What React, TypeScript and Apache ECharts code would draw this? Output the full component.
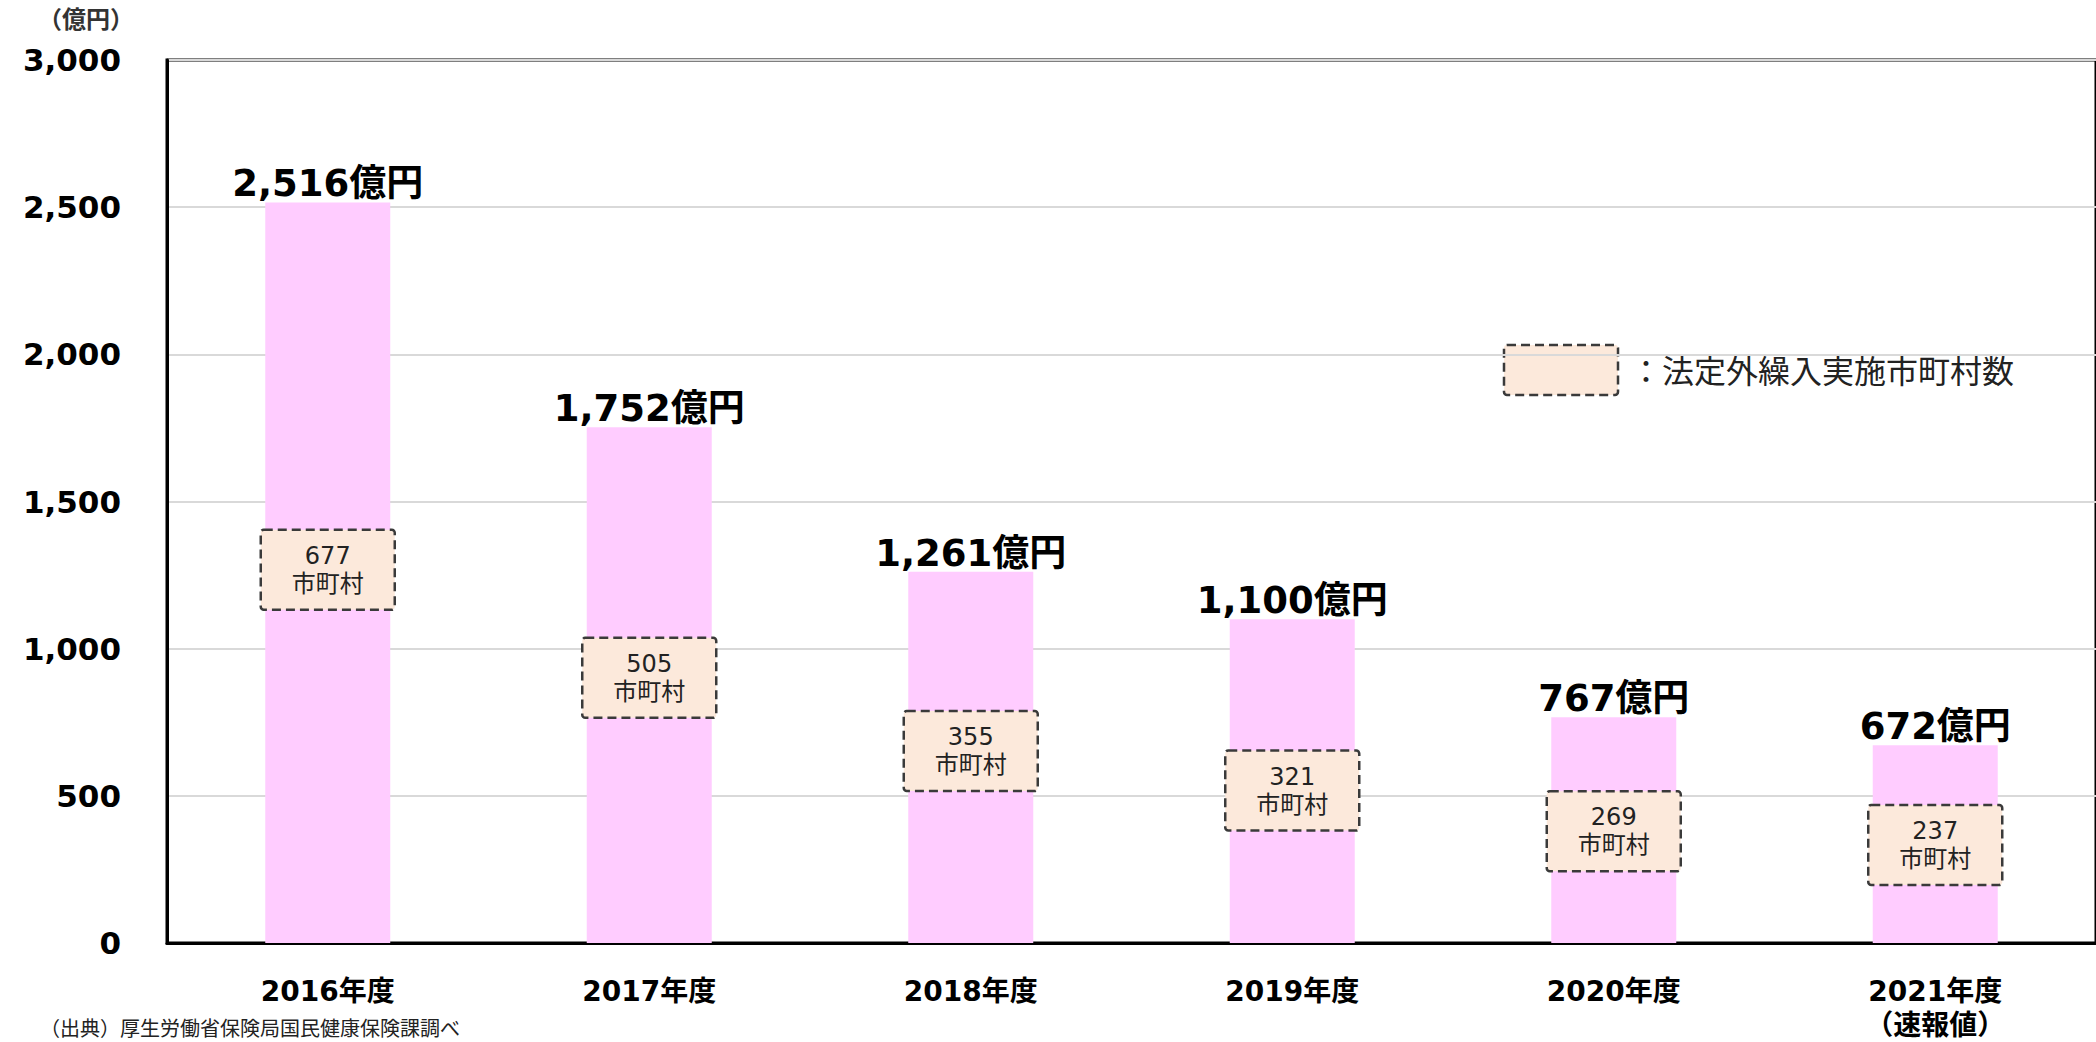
import React, { useEffect, useRef } from "react";
import * as echarts from "echarts";

const CATEGORIES = ["2016年度", "2017年度", "2018年度", "2019年度", "2020年度", "2021年度\n（速報値）"];
const AMOUNTS = [2516, 1752, 1261, 1100, 767, 672];
const MUNICIPALITIES = [677, 505, 355, 321, 269, 237];
// vertical anchor (in 億円 units) of each municipality box's centre
const BOX_ANCHORS = [1268, 901, 652, 518, 380, 333];
const Y_TICKS = [0, 500, 1000, 1500, 2000, 2500, 3000];

const UNIT_LABEL = "（億円）";
const LEGEND_LABEL = "：法定外繰入実施市町村数";
const SOURCE_NOTE = "（出典）厚生労働省保険局国民健康保険課調べ";

const LATIN = "'DejaVu Sans', 'Noto Sans CJK JP', sans-serif";
const BOX_FILL = "#FCE9DB";
const BOX_STROKE = "#3a3a3a";

function fmt(n: number): string {
  return String(n).replace(/\B(?=(\d{3})+(?!\d))/g, ",");
}

export default function App() {
  const ref = useRef<HTMLDivElement>(null);

  useEffect(() => {
    if (!ref.current) return;
    const chart = echarts.init(ref.current, undefined, { renderer: "svg" });
    const boxW = 134;
    const boxH = 80;
    chart.setOption({
      animation: false,
      backgroundColor: "#ffffff",
      grid: {
        left: 167,
        top: 60,
        width: 1933,
        height: 892,
        show: true,
        borderColor: "#000",
        borderWidth: 3,
        backgroundColor: "transparent",
      },
      xAxis: {
        type: "category",
        data: CATEGORIES,
        axisTick: { show: false },
        axisLine: { show: true, lineStyle: { color: "#000", width: 3 } },
        axisLabel: {
          margin: 31,
          fontFamily: LATIN,
          fontWeight: "bold",
          fontSize: 28,
          lineHeight: 34,
          color: "#000",
        },
      },
      yAxis: {
        type: "value",
        min: Y_TICKS[0],
        max: Y_TICKS[Y_TICKS.length - 1],
        interval: Y_TICKS[1] - Y_TICKS[0],
        axisLine: { show: true, lineStyle: { color: "#000", width: 3 } },
        axisTick: { show: false },
        splitLine: { show: true, lineStyle: { color: "#d9d9d9", width: 2 } },
        axisLabel: {
          margin: 46,
          fontFamily: LATIN,
          fontWeight: "bold",
          fontSize: 31,
          color: "#000",
          formatter: (v: number) => fmt(v),
        },
      },
      series: [
        {
          type: "bar",
          data: AMOUNTS,
          barWidth: 125,
          itemStyle: { color: "#FFCCFF" },
          label: {
            show: true,
            position: "top",
            distance: 0,
            fontFamily: LATIN,
            fontWeight: "bold",
            fontSize: 37,
            color: "#000",
            formatter: (p: any) => fmt(p.value) + "億円",
          },
          z: 2,
        },
        {
          type: "custom",
          data: CATEGORIES.map((_, i) => [i, BOX_ANCHORS[i], MUNICIPALITIES[i]]),
          z: 5,
          renderItem: (params: any, api: any) => {
            const pt = api.coord([api.value(0), api.value(1)]);
            const n = api.value(2);
            return {
              type: "group",
              children: [
                {
                  type: "rect",
                  shape: { x: pt[0] - boxW / 2, y: pt[1] - boxH / 2, width: boxW, height: boxH, r: 3 },
                  style: {
                    fill: BOX_FILL,
                    stroke: BOX_STROKE,
                    lineWidth: 2.5,
                    lineDash: [9, 5],
                  },
                },
                {
                  type: "text",
                  x: pt[0],
                  y: pt[1],
                  style: {
                    text: n + "\n市町村",
                    align: "center",
                    verticalAlign: "middle",
                    fontFamily: LATIN,
                    fontSize: 24,
                    lineHeight: 28,
                    fill: "#222",
                  },
                },
              ],
            };
          },
        },
      ],
      graphic: [
        {
          type: "text",
          left: 38,
          top: 8,
          style: {
            text: UNIT_LABEL,
            fontFamily: LATIN,
            fontWeight: "bold",
            fontSize: 24,
            fill: "#333",
          },
        },
        {
          type: "rect",
          shape: { x: 1504, y: 345, width: 114, height: 50, r: 3 },
          style: { fill: BOX_FILL, stroke: BOX_STROKE, lineWidth: 2.5, lineDash: [9, 5] },
        },
        {
          type: "text",
          x: 1630,
          y: 372,
          style: {
            text: LEGEND_LABEL,
            fontFamily: LATIN,
            fontSize: 32,
            fill: "#222",
            verticalAlign: "middle",
          },
        },
        {
          type: "text",
          x: 40,
          y: 1019,
          style: {
            text: SOURCE_NOTE,
            fontFamily: LATIN,
            fontSize: 20,
            fill: "#222",
          },
        },
      ],
    });
    return () => chart.dispose();
  }, []);

  return (
    <div
      ref={ref}
      style={{ position: "fixed", left: 0, top: 0, width: 2096, height: 1042 }}
    />
  );
}
